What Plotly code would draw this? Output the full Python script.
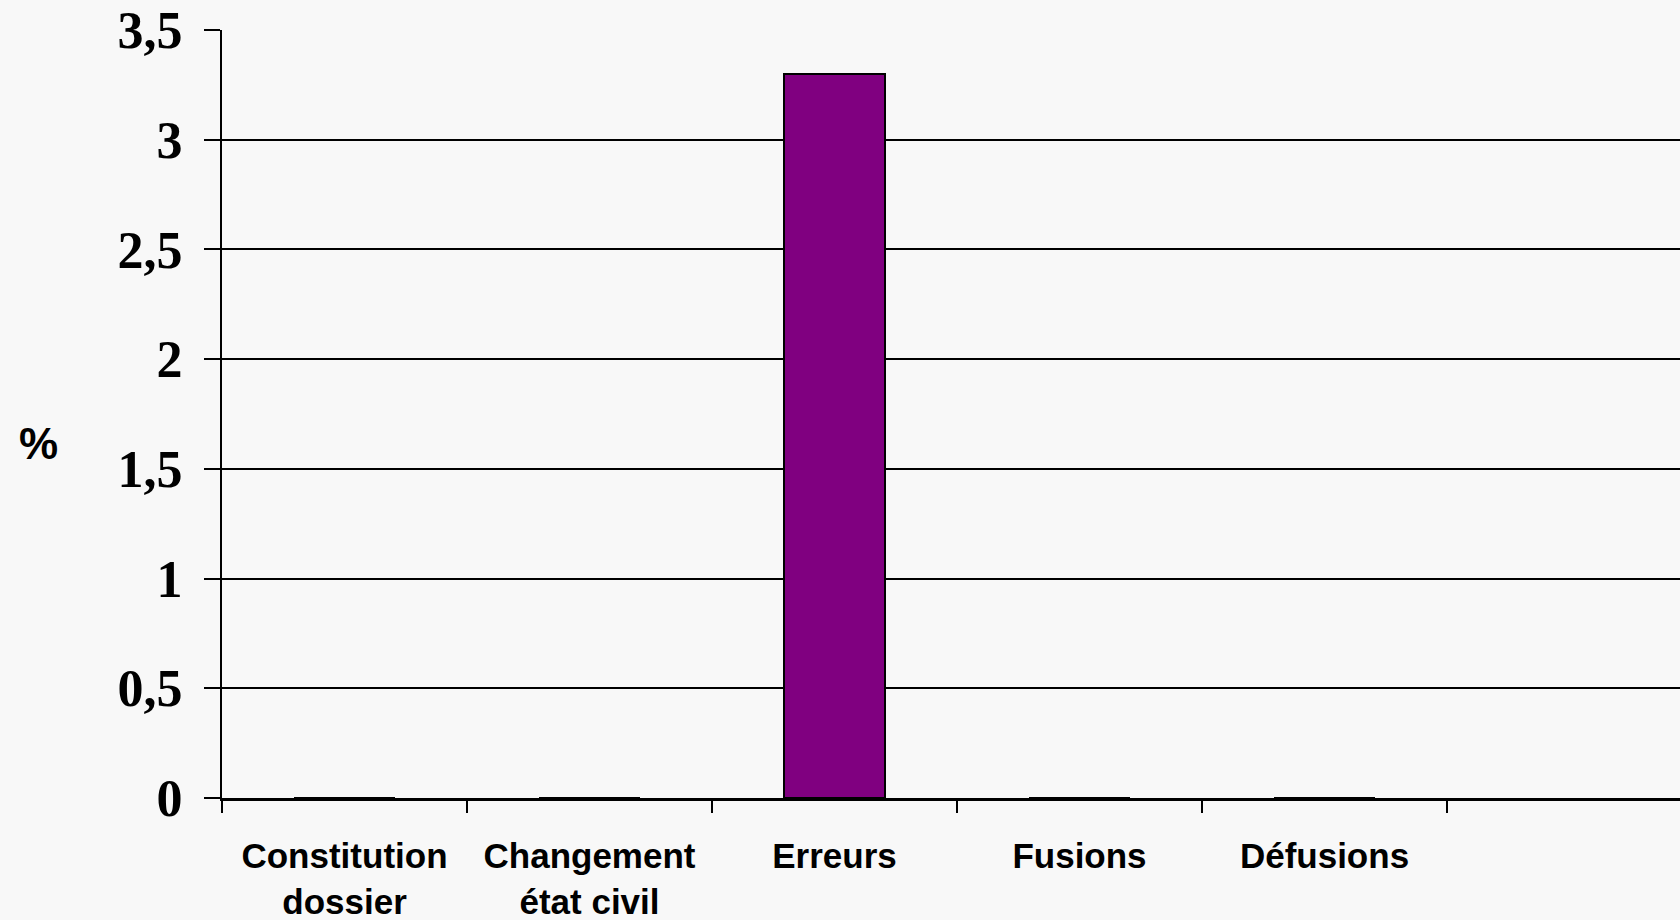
import plotly.graph_objects as go

categories = ["Constitution<br>dossier", "Changement<br>état civil", "Erreurs", "Fusions", "Défusions", "\u00a0"]
values = [0, 0, 3.3, 0, 0, None]
y_ticks = [0, 0.5, 1, 1.5, 2, 2.5, 3, 3.5]

W, H = 1680, 920
left, top, bottom = 222, 30, 122
plot_w = W - left
cat_w = 245
x_max = -0.5 + plot_w / cat_w

fig = go.Figure()
fig.add_trace(go.Bar(
    x=categories, y=values, width=0.41,
    marker=dict(color="#800080", line=dict(color="black", width=2)),
    hoverinfo="skip",
))

fig.update_layout(
    width=W, height=H,
    margin=dict(l=left, r=0, t=top, b=bottom, autoexpand=False),
    paper_bgcolor="#f8f8f8", plot_bgcolor="#f8f8f8",
    separators=", ",
    showlegend=False,
    bargap=0,
)
fig.update_xaxes(
    type="category", categoryorder="array", categoryarray=categories,
    range=[-0.5, x_max], tickson="boundaries",
    ticks="outside", ticklen=12, tickwidth=2, tickcolor="black",
    showline=True, linecolor="black", linewidth=3,
    showgrid=False, zeroline=False,
    tickfont=dict(family="Liberation Sans, Arial", size=35, color="black", weight="bold"),
    ticklabelstandoff=25,
)
fig.update_yaxes(
    range=[0, 3.5], tickmode="array", tickvals=y_ticks,
    ticks="outside", ticklen=16, tickwidth=2, tickcolor="black",
    showline=True, linecolor="black", linewidth=2,
    showgrid=True, gridcolor="black", gridwidth=2,
    zeroline=False,
    tickfont=dict(family="Liberation Serif, Times New Roman", size=52, color="black", weight="bold"),
    ticklabelstandoff=11,
)
fig.add_annotation(
    text="%", showarrow=False,
    xref="paper", yref="paper",
    x=(38 - left) / plot_w, y=(H - bottom - 443) / (H - top - bottom),
    xanchor="center", yanchor="middle",
    font=dict(family="Liberation Sans, Arial", size=44, color="black", weight="bold"),
)
fig.write_html("out.html")
